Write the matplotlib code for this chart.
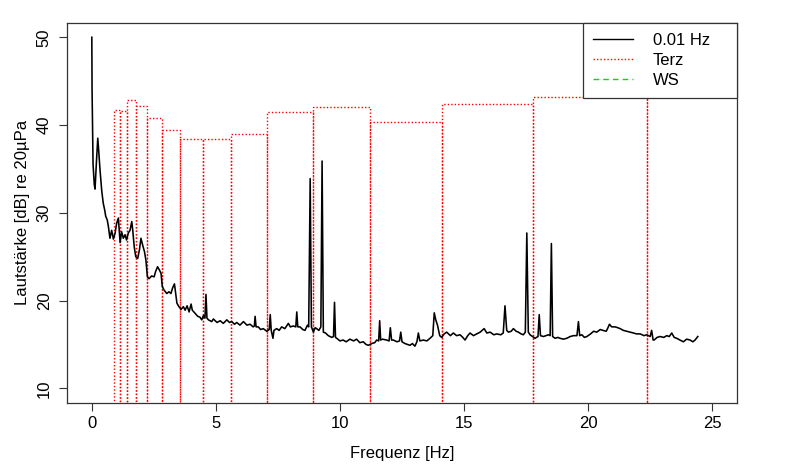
import matplotlib
matplotlib.use("Agg")
import matplotlib.pyplot as plt
from matplotlib.lines import Line2D

plt.rcParams['font.family'] = ['Liberation Sans', 'DejaVu Sans']

# 0.01 Hz spectrum
spec_pts = [
(0.00, 50.0), (0.01, 44.0), (0.05, 35.5), (0.10, 33.2), (0.13, 32.7), (0.19, 36.0), (0.24, 38.5),
(0.28, 37.0), (0.33, 34.9), (0.40, 32.5), (0.46, 31.1), (0.52, 30.3), (0.56, 29.6), (0.62, 29.2),
(0.67, 28.4), (0.73, 27.1), (0.80, 28.0), (0.87, 27.0), (0.94, 27.7), (1.00, 28.8), (1.07, 29.4),
(1.14, 26.6), (1.20, 27.85), (1.27, 27.1), (1.34, 27.5), (1.40, 26.9), (1.47, 27.7), (1.54, 28.0),
(1.61, 29.0), (1.65, 28.0), (1.71, 26.1), (1.77, 25.0), (1.85, 24.8), (1.92, 25.8), (1.98, 27.1),
(2.05, 26.3), (2.12, 25.6), (2.18, 24.6), (2.24, 22.7), (2.31, 22.5), (2.41, 22.8), (2.51, 22.7),
(2.57, 23.3), (2.65, 23.85), (2.72, 23.5), (2.79, 23.1), (2.84, 21.6), (2.91, 21.2), (3.02, 20.8),
(3.11, 21.0), (3.19, 20.8), (3.25, 21.4), (3.33, 21.9), (3.38, 20.8), (3.43, 19.7), (3.51, 19.3),
(3.60, 19.0), (3.69, 19.3), (3.76, 18.9), (3.84, 19.4), (3.92, 18.7), (4.00, 19.6), (4.05, 18.9),
(4.16, 18.55), (4.27, 18.2), (4.36, 18.1), (4.43, 17.8), (4.50, 18.3), (4.56, 18.0), (4.60, 20.7),
(4.64, 18.0), (4.70, 17.8), (4.83, 17.6), (4.90, 17.9), (4.97, 17.7), (5.05, 17.5), (5.17, 17.7),
(5.30, 17.4), (5.44, 17.8), (5.55, 17.5), (5.64, 17.6), (5.75, 17.3), (5.84, 17.5), (5.97, 17.2),
(6.11, 17.6), (6.25, 17.2), (6.38, 17.3), (6.50, 17.0), (6.55, 17.1), (6.58, 18.2), (6.62, 17.0),
(6.71, 17.0), (6.80, 16.7), (6.91, 16.8), (7.05, 16.5), (7.15, 16.7), (7.19, 18.4), (7.23, 16.6),
(7.30, 15.7), (7.34, 16.6), (7.45, 16.8), (7.55, 16.6), (7.65, 17.0), (7.78, 16.8), (7.92, 17.4),
(8.00, 17.0), (8.12, 17.1), (8.22, 17.0), (8.26, 18.7), (8.30, 17.0), (8.39, 17.0), (8.50, 16.7),
(8.59, 16.6), (8.69, 17.2), (8.74, 17.0), (8.80, 33.9), (8.85, 17.0), (8.93, 16.4), (9.00, 16.9),
(9.06, 16.8), (9.15, 16.6), (9.23, 17.0), (9.28, 35.9), (9.33, 16.4), (9.42, 16.3), (9.53, 16.0),
(9.67, 15.8), (9.74, 15.9), (9.78, 19.8), (9.82, 15.8), (9.87, 15.7), (10.00, 15.4), (10.13, 15.5),
(10.25, 15.3), (10.40, 15.6), (10.55, 15.4), (10.67, 15.6), (10.80, 15.2), (10.94, 15.3), (11.05, 15.0),
(11.14, 14.9), (11.28, 15.1), (11.40, 15.2), (11.48, 15.5), (11.56, 15.4), (11.60, 17.7), (11.64, 15.5),
(11.72, 15.6), (11.88, 15.5), (11.98, 15.4), (12.03, 16.9), (12.08, 15.5), (12.15, 15.5), (12.30, 15.3),
(12.40, 15.4), (12.45, 16.4), (12.50, 15.3), (12.62, 15.1), (12.72, 15.0), (12.82, 14.9), (12.92, 15.1),
(13.02, 14.8), (13.10, 15.3), (13.16, 16.3), (13.22, 15.4), (13.36, 15.5), (13.50, 15.4), (13.63, 15.7),
(13.74, 16.0), (13.80, 18.6), (13.86, 17.8), (13.93, 17.2), (14.02, 16.0), (14.10, 15.8), (14.20, 16.2),
(14.30, 16.4), (14.45, 16.0), (14.57, 16.3), (14.70, 16.0), (14.84, 16.1), (14.95, 15.8), (15.04, 15.5),
(15.15, 16.0), (15.24, 16.3), (15.38, 16.0), (15.51, 16.2), (15.65, 16.4), (15.81, 16.8), (15.92, 16.3),
(16.05, 16.4), (16.20, 16.1), (16.32, 16.2), (16.48, 16.1), (16.58, 16.3), (16.65, 19.4), (16.72, 16.6),
(16.79, 16.4), (16.90, 16.5), (16.99, 16.8), (17.10, 16.5), (17.19, 16.4), (17.30, 16.2), (17.39, 16.1),
(17.47, 16.4), (17.53, 27.7), (17.59, 16.4), (17.66, 16.1), (17.76, 15.9), (17.86, 15.7), (17.98, 15.9),
(18.03, 18.4), (18.08, 16.0), (18.20, 15.9), (18.30, 16.0), (18.40, 16.1), (18.47, 16.0), (18.52, 26.5),
(18.57, 15.9), (18.67, 15.7), (18.78, 15.8), (18.87, 15.7), (19.00, 15.6), (19.14, 15.7), (19.28, 15.9),
(19.41, 16.0), (19.55, 16.0), (19.61, 17.6), (19.66, 16.0), (19.75, 16.1), (19.85, 15.8), (19.95, 15.9),
(20.10, 16.2), (20.22, 16.5), (20.35, 16.4), (20.49, 16.7), (20.60, 16.6), (20.73, 16.5), (20.80, 16.9),
(20.86, 17.3), (20.95, 17.0), (21.09, 17.0), (21.20, 16.9), (21.29, 16.8), (21.42, 16.6), (21.56, 16.5),
(21.70, 16.4), (21.83, 16.3), (21.95, 16.2), (22.10, 16.2), (22.25, 16.0), (22.36, 16.1), (22.50, 15.9),
(22.56, 16.6), (22.62, 15.5), (22.66, 15.5), (22.78, 15.8), (22.90, 15.9), (23.05, 15.8), (23.17, 16.0),
(23.27, 15.9), (23.37, 16.3), (23.47, 15.8), (23.57, 15.7), (23.70, 15.5), (23.84, 15.3), (23.97, 15.6),
(24.11, 15.5), (24.22, 15.3), (24.31, 15.5), (24.42, 15.9),
]
spec_freq = [p[0] for p in spec_pts]
spec_level = [p[1] for p in spec_pts]

# third-octave (Terz) bands: lower/upper edges and levels
terz_edges = [0.891, 1.122, 1.413, 1.778, 2.239, 2.818, 3.548, 4.467, 5.623,
              7.079, 8.913, 11.22, 14.13, 17.78, 22.39, 28.18]
terz_level = [41.7, 41.6, 42.85, 42.15, 40.8, 39.45, 38.45, 38.4, 38.95,
              41.5, 42.05, 40.3, 42.35, 43.2, 45.0]

# WS series (not visible in plotted range)
ws_freq = []
ws_level = []

legend_labels = ["0.01 Hz", "Terz", "WS"]

fig = plt.figure(figsize=(8.0, 4.7), dpi=100)
ax = fig.add_axes([67/800, 1-402.7/470, 670/800, 380/470])

ax.plot(spec_freq, spec_level, color='black', lw=1.15, zorder=3)

widths = [terz_edges[i+1]-terz_edges[i] for i in range(len(terz_level))]
ax.bar(terz_edges[:-1], terz_level, width=widths, align='edge', bottom=0,
       fill=False, edgecolor='red', linestyle=(0, (1, 1.5)), linewidth=1.0, zorder=2)
ax.plot(ws_freq, ws_level, color='#00dd00', ls=(0, (4, 3)), lw=1.0)

ax.set_xlim(-1, 26)
ax.set_ylim(8.36, 51.66)
ax.set_xticks([0, 5, 10, 15, 20, 25])
ax.set_yticks([10, 20, 30, 40, 50])
ax.tick_params(axis='both', direction='out', length=6, width=0.8, labelsize=12, color='#333333')
ax.tick_params(axis='y', pad=5)
for lab in ax.get_yticklabels():
    lab.set_rotation(90)
    lab.set_va('center')
for s in ax.spines.values():
    s.set_color('#333333')
    s.set_linewidth(0.9)
ax.set_xlabel("Frequenz [Hz]", fontsize=12, labelpad=11)
ax.set_ylabel("Lautstärke [dB] re 20µPa", fontsize=12, labelpad=5)

handles = [Line2D([], [], color='black', lw=1.0),
           Line2D([], [], color='red', lw=1.0, ls=(0, (1, 1.5))),
           Line2D([], [], color='#00dd00', lw=1.0, ls=(0, (4, 3)))]
x0 = (582.7-67)/670
leg = ax.legend(handles, legend_labels, loc='upper left', bbox_to_anchor=(x0, 1.0, 1-x0, 0.0),
                mode='expand', borderaxespad=0, fontsize=12, handlelength=2.4,
                handletextpad=1.2, labelspacing=0.3, borderpad=0.6, fancybox=False,
                framealpha=1.0, edgecolor='#333333')
leg.get_frame().set_linewidth(0.9)
leg.set_zorder(5)
# nudge legend contents to the right to match R-style padding
leg._legend_box.set_offset  # keep default layout

fig.savefig("out.png", dpi=100)
